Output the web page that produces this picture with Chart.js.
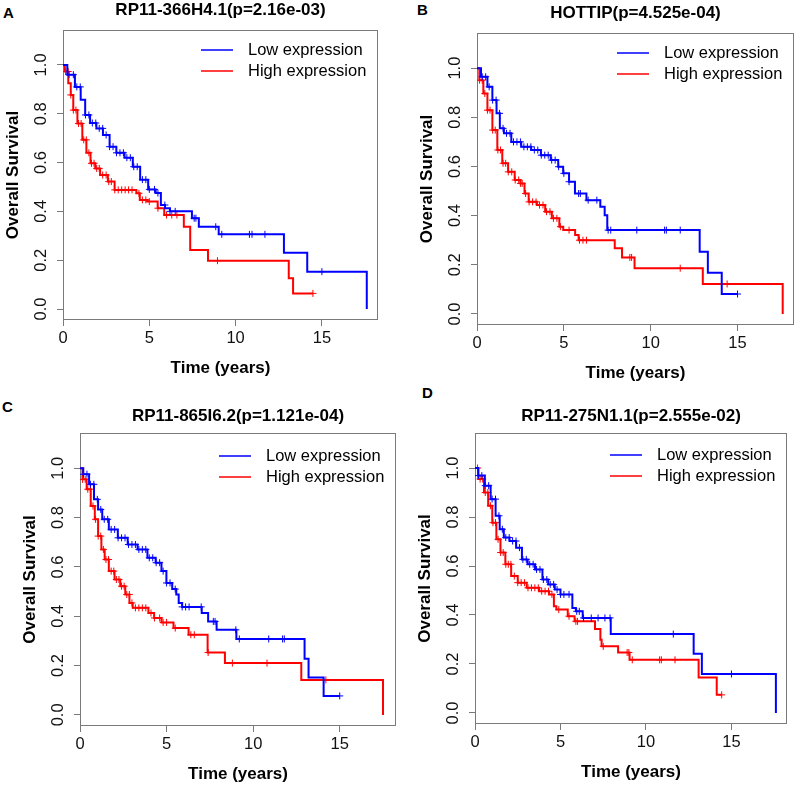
<!DOCTYPE html>
<html><head><meta charset="utf-8">
<script src="https://cdn.jsdelivr.net/npm/chart.js@4/dist/chart.umd.min.js"></script>
<style>
html,body{margin:0;padding:0;background:#fff;width:800px;height:785px;overflow:hidden;position:relative;font-family:"Liberation Sans",Arial,sans-serif;}
canvas{position:absolute;}
.lbl{position:absolute;font-weight:bold;font-size:15px;line-height:15px;color:#000;}
</style></head><body>
<div class="lbl" style="left:3px;top:5px">A</div>
<div class="lbl" style="left:417px;top:2px">B</div>
<div class="lbl" style="left:2px;top:399px">C</div>
<div class="lbl" style="left:422px;top:385px">D</div>
<canvas id="cA"></canvas>
<canvas id="cB"></canvas>
<canvas id="cC"></canvas>
<canvas id="cD"></canvas>
<script>
// ---------------- data ----------------
const seriesNames = ['Low expression', 'High expression'];
const titles = ['RP11-366H4.1(p=2.16e-03)', 'HOTTIP(p=4.525e-04)', 'RP11-865I6.2(p=1.121e-04)', 'RP11-275N1.1(p=2.555e-02)'];
const xTickValues = [0, 5, 10, 15];
const xTickLabels = ['0', '5', '10', '15'];
const yTickValues = [0, 0.2, 0.4, 0.6, 0.8, 1.0];
const yTickLabels = ['0.0', '0.2', '0.4', '0.6', '0.8', '1.0'];

// Panel A
const aLowT  = [0, 0.5, 0.88, 1.17, 1.4, 1.74, 2.13, 2.5, 2.9, 3.28, 3.85, 4.24, 4.7, 5.17, 5.57, 5.77, 6.05, 6.34, 7.47, 7.47, 7.87, 7.87, 9.02, 9.02, 12.8, 12.8, 14.15, 14.15, 17.6, 17.6];
const aLowS  = [1, 0.96, 0.91, 0.857, 0.795, 0.762, 0.74, 0.713, 0.665, 0.64, 0.62, 0.583, 0.53, 0.49, 0.475, 0.426, 0.413, 0.40, 0.40, 0.372, 0.372, 0.337, 0.337, 0.306, 0.306, 0.231, 0.231, 0.153, 0.153, 0];
const aLowCens = [0.35, 0.6, 0.8, 1.0, 1.3, 1.5, 1.7, 1.9, 2.1, 2.3, 2.5, 2.7, 2.9, 3.1, 3.3, 3.5, 3.7, 3.9, 4.1, 4.3, 4.6, 4.8, 5.0, 5.3, 5.5, 5.9, 6.2, 6.5, 7.6, 7.7, 8.85, 9.2, 10.8, 10.95, 11.7, 15.0];
const aHighT = [0, 0.21, 0.4, 0.5, 0.69, 0.98, 1.26, 1.45, 1.74, 2.0, 2.3, 2.9, 3.08, 4.2, 4.3, 4.6, 5.2, 5.77, 5.96, 7.0, 7.0, 7.37, 7.37, 8.4, 8.4, 13.08, 13.08, 13.33, 13.33, 14.48];
const aHighS = [1, 0.973, 0.925, 0.877, 0.815, 0.76, 0.693, 0.64, 0.597, 0.576, 0.549, 0.522, 0.488, 0.488, 0.474, 0.447, 0.44, 0.413, 0.385, 0.385, 0.337, 0.337, 0.242, 0.242, 0.198, 0.198, 0.126, 0.126, 0.064, 0.064];
const aHighCens = [0.15, 0.3, 0.45, 0.6, 0.75, 0.9, 1.05, 1.2, 1.35, 1.5, 1.65, 1.8, 1.95, 2.1, 2.3, 2.5, 2.65, 2.8, 3.0, 3.2, 3.4, 3.6, 3.8, 4.0, 4.4, 4.6, 4.8, 5.0, 5.5, 6.0, 6.3, 6.6, 8.95, 14.48];

// Panel B
const bLowT  = [0, 0.46, 0.74, 1.03, 1.22, 1.41, 1.69, 2.26, 2.83, 3.4, 3.96, 4.53, 4.82, 5.1, 5.5, 5.78, 6.3, 6.3, 7.1, 7.1, 7.35, 7.35, 7.5, 7.5, 12.82, 12.82, 13.29, 13.29, 14.09, 14.09, 15.0];
const bLowS  = [1, 0.965, 0.924, 0.87, 0.816, 0.755, 0.735, 0.70, 0.68, 0.667, 0.646, 0.626, 0.599, 0.572, 0.538, 0.49, 0.49, 0.463, 0.463, 0.436, 0.436, 0.402, 0.402, 0.341, 0.341, 0.253, 0.253, 0.168, 0.168, 0.081, 0.081];
const bLowCens = [0.3, 0.5, 0.7, 0.9, 1.1, 1.3, 1.5, 1.7, 1.9, 2.1, 2.3, 2.5, 2.7, 2.9, 3.1, 3.3, 3.5, 3.7, 3.9, 4.1, 4.3, 4.5, 4.7, 5.0, 5.3, 5.85, 5.95, 6.4, 6.9, 7.55, 7.7, 9.2, 10.8, 10.9, 11.7, 15.0];
const bHighT = [0, 0.27, 0.46, 0.74, 1.03, 1.31, 1.6, 1.98, 2.36, 2.64, 2.83, 3.12, 3.78, 4.07, 4.55, 4.93, 5.0, 5.65, 5.65, 5.85, 5.85, 7.93, 7.93, 8.35, 8.35, 9.07, 9.07, 13.0, 13.0, 17.6, 17.6];
const bHighS = [1, 0.951, 0.897, 0.829, 0.748, 0.667, 0.613, 0.578, 0.545, 0.531, 0.49, 0.456, 0.443, 0.416, 0.389, 0.355, 0.341, 0.341, 0.321, 0.321, 0.30, 0.30, 0.267, 0.267, 0.23, 0.23, 0.186, 0.186, 0.122, 0.122, 0];
const bHighCens = [0.15, 0.3, 0.45, 0.6, 0.75, 0.9, 1.05, 1.2, 1.35, 1.5, 1.65, 1.8, 2.0, 2.2, 2.4, 2.5, 2.6, 2.8, 3.0, 3.2, 3.4, 3.6, 3.8, 4.0, 4.2, 4.4, 4.6, 4.8, 5.3, 5.9, 6.1, 6.3, 8.8, 8.9, 11.7, 14.4];

// Panel C
const cLowT  = [0, 0.38, 0.67, 0.95, 1.14, 1.43, 1.9, 2.47, 3.04, 3.61, 4.18, 4.56, 4.85, 5.13, 5.52, 5.6, 5.8, 6.0, 7.03, 7.03, 7.4, 7.4, 7.89, 7.89, 9.03, 9.03, 12.97, 12.97, 13.2, 13.2, 14.07, 14.07, 15.0];
const cLowS  = [1, 0.976, 0.935, 0.874, 0.833, 0.793, 0.752, 0.718, 0.691, 0.671, 0.637, 0.617, 0.583, 0.535, 0.51, 0.488, 0.454, 0.438, 0.438, 0.413, 0.413, 0.379, 0.379, 0.345, 0.345, 0.308, 0.308, 0.228, 0.228, 0.152, 0.152, 0.077, 0.077];
const cLowCens = [0.2, 0.4, 0.6, 0.8, 1.0, 1.2, 1.4, 1.6, 1.8, 2.0, 2.2, 2.4, 2.6, 2.8, 3.0, 3.2, 3.4, 3.6, 3.8, 4.0, 4.2, 4.4, 4.6, 4.8, 5.0, 5.2, 5.5, 5.9, 6.1, 6.3, 7.0, 7.7, 7.8, 9.0, 9.2, 10.9, 11.7, 11.8, 15.0];
const cHighT = [0, 0.29, 0.48, 0.76, 0.95, 1.14, 1.33, 1.52, 1.81, 2.18, 2.47, 2.76, 2.95, 3.14, 3.9, 4.0, 4.56, 4.85, 5.4, 5.4, 6.27, 6.27, 7.37, 7.37, 8.37, 8.37, 12.78, 12.78, 17.5, 17.5];
const cHighS = [1, 0.955, 0.915, 0.847, 0.793, 0.725, 0.671, 0.63, 0.583, 0.549, 0.522, 0.488, 0.454, 0.434, 0.434, 0.413, 0.393, 0.375, 0.375, 0.352, 0.352, 0.325, 0.325, 0.253, 0.253, 0.21, 0.21, 0.142, 0.142, 0];
const cHighCens = [0.15, 0.3, 0.45, 0.6, 0.75, 0.9, 1.05, 1.2, 1.35, 1.5, 1.65, 1.8, 1.95, 2.1, 2.25, 2.4, 2.55, 2.7, 2.85, 3.0, 3.2, 3.4, 3.6, 3.8, 4.1, 4.3, 4.6, 4.8, 5.0, 5.5, 6.4, 6.6, 7.4, 8.8, 10.8, 14.2];

// Panel D
const dLowT  = [0, 0.38, 0.77, 1.06, 1.35, 1.54, 1.83, 2.21, 2.6, 2.89, 3.27, 3.75, 4.14, 4.43, 4.9, 5.1, 5.67, 5.72, 5.9, 5.9, 6.3, 6.3, 7.94, 7.94, 12.79, 12.79, 13.27, 13.27, 17.6, 17.6];
const dLowS  = [1, 0.969, 0.928, 0.873, 0.805, 0.75, 0.716, 0.702, 0.675, 0.627, 0.607, 0.586, 0.545, 0.525, 0.504, 0.484, 0.484, 0.429, 0.429, 0.415, 0.415, 0.388, 0.388, 0.322, 0.322, 0.242, 0.242, 0.159, 0.159, 0];
const dLowCens = [0.2, 0.4, 0.6, 0.8, 1.0, 1.2, 1.4, 1.6, 1.8, 2.0, 2.2, 2.4, 2.6, 2.8, 3.0, 3.2, 3.4, 3.6, 3.8, 4.0, 4.2, 4.4, 4.6, 4.8, 5.0, 5.2, 5.5, 5.95, 6.1, 6.35, 6.8, 7.2, 7.6, 7.9, 11.6, 15.0];
const dHighT = [0, 0.38, 0.67, 0.87, 1.15, 1.35, 1.63, 1.92, 2.31, 2.69, 3.36, 4.14, 4.52, 4.71, 4.81, 5.4, 5.45, 5.8, 5.85, 7.02, 7.02, 7.31, 7.36, 7.45, 8.37, 8.37, 9.04, 9.04, 13.08, 13.08, 14.14, 14.14, 14.43];
const dHighS = [1, 0.955, 0.9, 0.846, 0.777, 0.709, 0.655, 0.607, 0.559, 0.532, 0.511, 0.497, 0.484, 0.436, 0.422, 0.422, 0.395, 0.395, 0.374, 0.374, 0.343, 0.343, 0.299, 0.272, 0.272, 0.247, 0.247, 0.217, 0.217, 0.145, 0.145, 0.074, 0.074];
const dHighCens = [0.15, 0.3, 0.45, 0.6, 0.75, 0.9, 1.05, 1.2, 1.35, 1.5, 1.65, 1.8, 1.95, 2.1, 2.3, 2.5, 2.7, 2.9, 3.1, 3.3, 3.5, 3.7, 3.9, 4.1, 4.3, 4.5, 4.9, 5.5, 5.9, 6.0, 7.5, 8.9, 9.0, 9.2, 10.8, 10.9, 11.7, 14.43];

// ---------------- layout / style ----------------
const FONT = '"Liberation Sans", Arial, Helvetica, sans-serif';
const BLUE = '#0000ff', RED = '#ff0000', AXIS = '#7a7a7a';
const X_RANGE = [0, 18.25], Y_RANGE = [-0.045, 1.143];
const panels = [
  {id: 'cA', box: [1, 0, 382, 380], titlePad: 10, legTop: 20, title: titles[0],
   low: [aLowT, aLowS, aLowCens], high: [aHighT, aHighS, aHighCens]},
  {id: 'cB', box: [415, 3, 384, 382], titlePad: 10, legTop: 20, title: titles[1],
   low: [bLowT, bLowS, bLowCens], high: [bHighT, bHighS, bHighCens]},
  {id: 'cC', box: [18, 406, 383, 380], titlePad: 7, legTop: 23, title: titles[2],
   low: [cLowT, cLowS, cLowCens], high: [cHighT, cHighS, cHighCens]},
  {id: 'cD', box: [413, 406, 379, 378], titlePad: 7, legTop: 22, title: titles[3],
   low: [dLowT, dLowS, dLowCens], high: [dHighT, dHighS, dHighCens]}
];

Chart.defaults.font.family = FONT;
Chart.defaults.color = '#000';

// value of the drawn (mid-stepped) curve at time t
function survAt(ts, ss, t) {
  if (t <= ts[0]) return ss[0];
  for (let i = 0; i < ts.length - 1; i++) {
    if (t >= ts[i] && t < ts[i + 1]) return t < (ts[i] + ts[i + 1]) / 2 ? ss[i] : ss[i + 1];
  }
  return ss[ss.length - 1];
}

const boxPlugin = {
  id: 'rBox',
  beforeDatasetsDraw(chart) {
    const a = chart.chartArea, ctx = chart.ctx;
    ctx.save();
    ctx.strokeStyle = AXIS; ctx.lineWidth = 1;
    ctx.strokeRect(Math.round(a.left) + 0.5, Math.round(a.top) + 0.5,
                   Math.round(a.right - a.left) - 1, Math.round(a.bottom - a.top) - 1);
    ctx.restore();
  }
};

const legendPlugin = {
  id: 'survLegend',
  afterDraw(chart, args, opts) {
    const a = chart.chartArea, ctx = chart.ctx;
    const items = chart.data.datasets.filter(d => d.inLegend);
    ctx.save();
    ctx.font = '16.5px ' + FONT;
    ctx.textBaseline = 'middle';
    ctx.textAlign = 'left';
    items.forEach((d, i) => {
      const y = a.top + opts.top + i * 21;
      ctx.strokeStyle = d.borderColor; ctx.lineWidth = 1.5;
      ctx.beginPath(); ctx.moveTo(a.right - 177, y); ctx.lineTo(a.right - 145, y); ctx.stroke();
      ctx.fillStyle = '#000';
      ctx.fillText(d.label, a.right - 130, y);
    });
    ctx.restore();
  }
};

function curve(ts, ss) { return ts.map((t, i) => ({x: t, y: ss[i]})); }
function cens(ts, ss, cs) { return cs.map(t => ({x: t, y: survAt(ts, ss, t)})); }

panels.forEach(p => {
  const cv = document.getElementById(p.id);
  cv.width = p.box[2]; cv.height = p.box[3];
  cv.style.left = p.box[0] + 'px'; cv.style.top = p.box[1] + 'px';
  const mk = (arr, color, name) => ([
    {label: name, inLegend: true, data: curve(arr[0], arr[1]), stepped: 'middle',
     borderColor: color, borderWidth: 2, pointRadius: 0, fill: false},
    {label: name + ' censored', data: cens(arr[0], arr[1], arr[2]), showLine: false,
     borderColor: color, backgroundColor: color, pointStyle: 'cross', pointRadius: 3.5,
     pointBorderWidth: 1}
  ]);
  new Chart(cv, {
    type: 'line',
    data: {datasets: [...mk(p.low, BLUE, seriesNames[0]), ...mk(p.high, RED, seriesNames[1])]},
    options: {
      responsive: false, animation: false, events: [],
      layout: {padding: {left: 0, top: 0, right: 2, bottom: 0}},
      plugins: {
        legend: {display: false}, tooltip: {enabled: false},
        title: {display: true, fullSize: false, text: p.title, color: '#000',
                font: {size: 17, weight: 'bold', lineHeight: '20px'},
                padding: {top: 0, bottom: p.titlePad}},
        survLegend: {top: p.legTop}
      },
      scales: {
        x: {type: 'linear', min: X_RANGE[0], max: X_RANGE[1],
            afterBuildTicks: ax => { ax.ticks = xTickValues.map(v => ({value: v})); },
            afterFit: s => { s.height = 60; },
            border: {display: false},
            grid: {display: true, drawOnChartArea: false, drawTicks: true, tickLength: 6, color: AXIS},
            ticks: {autoSkip: false, maxRotation: 0, padding: 2, color: '#111',
                    font: {size: 16.5, lineHeight: '20px'},
                    callback: (v, i) => xTickLabels[i]},
            title: {display: true, text: 'Time (years)', color: '#000',
                    font: {size: 17, weight: 'bold', lineHeight: '20px'}, padding: {top: 0, bottom: 2}}},
        y: {type: 'linear', min: Y_RANGE[0], max: Y_RANGE[1],
            afterBuildTicks: ax => { ax.ticks = yTickValues.map(v => ({value: v})); },
            afterFit: s => { s.width = 62; },
            border: {display: false},
            grid: {display: true, drawOnChartArea: false, drawTicks: true, tickLength: 6, color: AXIS},
            ticks: {autoSkip: false, minRotation: 90, maxRotation: 90, crossAlign: 'center', padding: 4.5,
                    color: '#111', font: {size: 16.5, lineHeight: '20px'},
                    callback: (v, i) => yTickLabels[i]},
            title: {display: true, text: 'Overall Survival', color: '#000',
                    font: {size: 17, weight: 'bold', lineHeight: '20px'}, padding: {top: 2, bottom: 0}}}
      }
    },
    plugins: [boxPlugin, legendPlugin]
  });
});
</script>
</body></html>
